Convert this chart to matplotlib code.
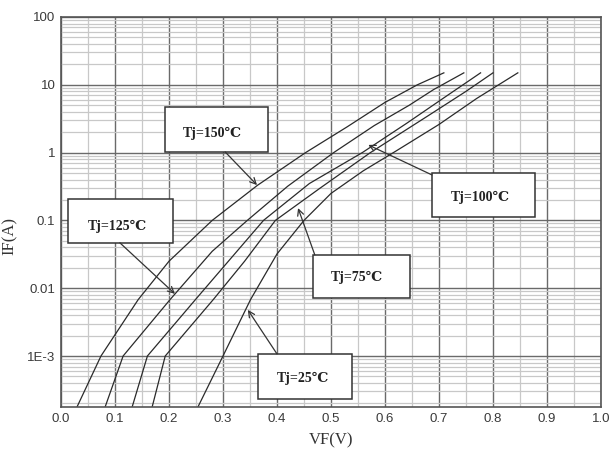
import matplotlib
matplotlib.use("Agg")
import matplotlib.pyplot as plt
from matplotlib.patches import Rectangle
from matplotlib.ticker import FixedLocator, MultipleLocator, LogLocator, NullFormatter

# forward characteristics (VF in volts, IF in amps)
vf_150 = [0.030, 0.074, 0.143, 0.20, 0.28, 0.364, 0.453, 0.53, 0.60, 0.66, 0.709]
if_150 = [1.8e-4, 1.0e-3, 6.8e-3, 0.025, 0.10, 0.33, 1.0, 2.4, 5.5, 10, 15]

vf_125 = [0.082, 0.115, 0.202, 0.28, 0.345, 0.42, 0.505, 0.58, 0.645, 0.69, 0.746]
if_125 = [1.8e-4, 1.0e-3, 6.8e-3, 0.035, 0.10, 0.32, 1.0, 2.5, 5.0, 8.5, 15]

vf_100 = [0.132, 0.160, 0.249, 0.31, 0.375, 0.46, 0.558, 0.64, 0.71, 0.777]
if_100 = [1.8e-4, 1.0e-3, 6.8e-3, 0.025, 0.10, 0.35, 1.0, 2.7, 6.5, 15]

vf_75 = [0.169, 0.193, 0.282, 0.34, 0.397, 0.48, 0.573, 0.68, 0.75, 0.80]
if_75 = [1.8e-4, 1.0e-3, 6.8e-3, 0.025, 0.10, 0.30, 1.0, 3.5, 8.0, 15]

vf_25 = [0.254, 0.300, 0.351, 0.40, 0.45, 0.50, 0.56, 0.62, 0.70, 0.77, 0.846]
if_25 = [1.8e-4, 1.0e-3, 6.8e-3, 0.032, 0.10, 0.25, 0.54, 1.05, 2.6, 6.3, 15]

curves = [(vf_150, if_150), (vf_125, if_125), (vf_100, if_100), (vf_75, if_75), (vf_25, if_25)]

x_ticks = [0.0, 0.1, 0.2, 0.3, 0.4, 0.5, 0.6, 0.7, 0.8, 0.9, 1.0]
x_ticklabels = ["0.0", "0.1", "0.2", "0.3", "0.4", "0.5", "0.6", "0.7", "0.8", "0.9", "1.0"]
y_ticks = [1e-3, 0.01, 0.1, 1, 10, 100]
y_ticklabels = ["1E-3", "0.01", "0.1", "1", "10", "100"]

labels = ["Tj=150\u2103", "Tj=125\u2103", "Tj=100\u2103", "Tj=75\u2103", "Tj=25\u2103"]

# callout layout in axes fractions: box (x0, y0, w, h), text centre, arrow tail, arrow tip
boxes = [(0.193, 0.654, 0.191, 0.115), (0.013, 0.421, 0.194, 0.113),
         (0.687, 0.487, 0.191, 0.113), (0.467, 0.279, 0.180, 0.110),
         (0.365, 0.021, 0.174, 0.115)]
text_pos = [(0.281, 0.701), (0.104, 0.464), (0.776, 0.538), (0.548, 0.331), (0.448, 0.074)]
tails = [(0.304, 0.654), (0.109, 0.421), (0.687, 0.595), (0.470, 0.390), (0.400, 0.136)]
tips = [(0.363, 0.569), (0.211, 0.290), (0.569, 0.672), (0.439, 0.510), (0.346, 0.249)]

serif = ["Liberation Serif", "DejaVu Serif"]

fig = plt.figure(figsize=(6.12, 4.59), dpi=100)
ax = fig.add_axes([0.0997, 0.1133, 0.8823, 0.8497])

ax.set_yscale("log")
ax.set_xlim(0.0, 1.0)
ax.set_ylim(1.77e-4, 100)

# grid: dark majors, light minors
ax.xaxis.set_major_locator(FixedLocator(x_ticks))
ax.xaxis.set_minor_locator(MultipleLocator(0.05))
ax.yaxis.set_major_locator(FixedLocator(y_ticks))
ax.yaxis.set_minor_locator(LogLocator(base=10, subs=[2, 3, 4, 5, 6, 7, 8, 9], numticks=20))
ax.yaxis.set_minor_formatter(NullFormatter())
ax.grid(True, which="major", color="#6a6a6a", linewidth=1.0)
ax.grid(True, which="minor", color="#c8c8c8", linewidth=0.9)
ax.set_axisbelow(True)

for vf, i_f in curves:
    ax.plot(vf, i_f, color="#2a2a2a", linewidth=0.9)

ax.set_xticks(x_ticks)
ax.set_xticklabels(x_ticklabels)
ax.set_yticks(y_ticks)
ax.set_yticklabels(y_ticklabels)
ax.tick_params(which="both", length=0, pad=4, labelsize=9.5, labelcolor="#3a3a3a")
for lab in ax.get_xticklabels() + ax.get_yticklabels():
    lab.set_family(["Liberation Sans", "DejaVu Sans"])

for s in ax.spines.values():
    s.set_color("#555555")
    s.set_linewidth(1.2)

# callout boxes with arrows
for text, box, tpos, tail, tip in zip(labels, boxes, text_pos, tails, tips):
    ax.add_patch(Rectangle((box[0], box[1]), box[2], box[3], transform=ax.transAxes,
                           facecolor="white", edgecolor="#333333", linewidth=1.1, zorder=4))
    ax.text(tpos[0], tpos[1], text, transform=ax.transAxes, ha="center", va="center",
            fontsize=10, fontweight="bold", family=serif + ["DejaVu Sans"],
            color="#222222", zorder=5)
    ax.annotate("", xy=tip, xytext=tail, xycoords="axes fraction", textcoords="axes fraction",
                arrowprops=dict(arrowstyle="->", color="#333333", lw=0.9,
                                shrinkA=0, shrinkB=0, mutation_scale=11), zorder=5)

ax.set_xlabel("VF(V)", family=serif, fontsize=12, color="#333333", labelpad=6)
fig.text(0.016, 0.485, "IF(A)", rotation=90, family=serif, fontsize=12,
         color="#333333", ha="center", va="center")

fig.savefig("out.png", dpi=100)
